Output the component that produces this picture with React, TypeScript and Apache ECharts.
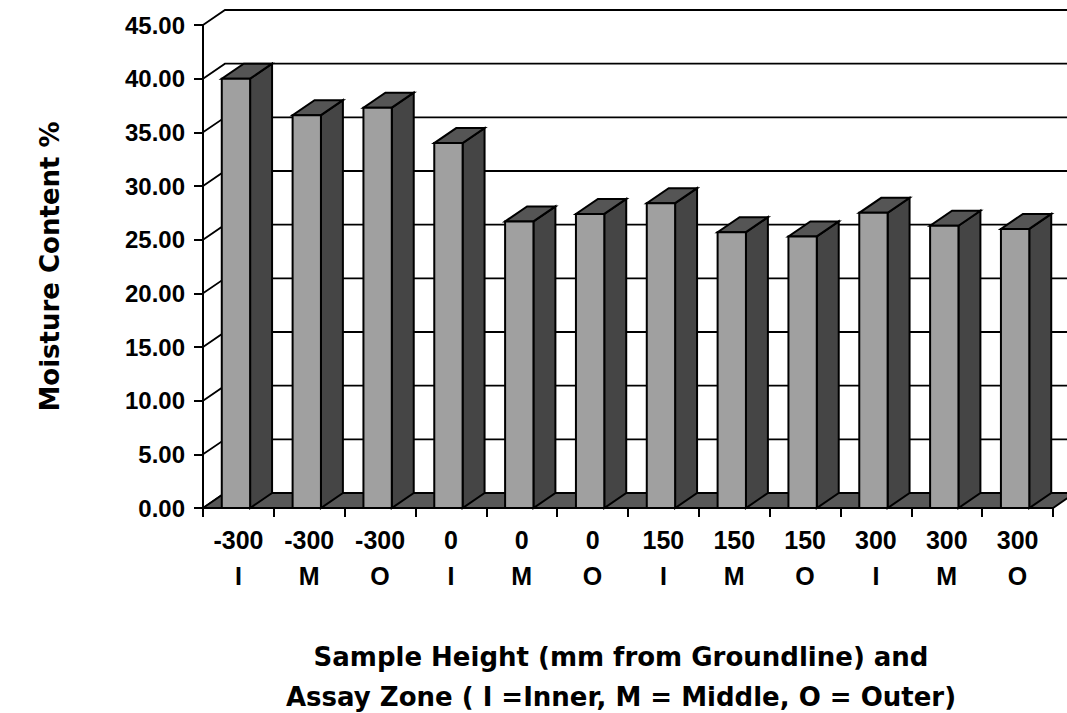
import React, { useEffect, useRef } from "react";
import * as echarts from "echarts";

const heights = ["-300", "-300", "-300", "0", "0", "0", "150", "150", "150", "300", "300", "300"];
const zones = ["I", "M", "O", "I", "M", "O", "I", "M", "O", "I", "M", "O"];
const moisture = [40.0, 36.6, 37.3, 34.0, 26.7, 27.4, 28.4, 25.7, 25.3, 27.5, 26.3, 26.0];
const yTicks = [0, 5, 10, 15, 20, 25, 30, 35, 40, 45];

const FONT = "'Liberation Sans', Arial, sans-serif";
const TFONT = "'DejaVu Sans', 'Liberation Sans', sans-serif";
const DY = 15;
const DXR = 0.31;

export default function App() {
  const ref = useRef<HTMLDivElement>(null);
  useEffect(() => {
    document.body.style.margin = "0";
    if (!ref.current) return;
    const chart = echarts.init(ref.current, null, { renderer: "svg" });
    const categories = heights.map((h, i) => h + "\n" + zones[i]);
    const n = categories.length;

    const gridSeries = {
      type: "custom",
      z: 1,
      silent: true,
      encode: { x: 0, y: 1 },
      data: yTicks.map((v) => [0, v]),
      renderItem: (params: any, api: any) => {
        const v = api.value(1);
        const bw = api.size([1, 0])[0];
        const dx = bw * DXR;
        const p = api.coord([0, v]);
        const pr = api.coord([n - 1, v]);
        const x0 = p[0] - bw / 2;
        const xr = pr[0] + bw / 2 + dx;
        return {
          type: "polyline",
          shape: { points: [[x0, p[1]], [x0 + dx, p[1] - DY], [xr, p[1] - DY]] },
          style: { stroke: "#000", lineWidth: 1.8, fill: null },
        };
      },
    };

    const floorSeries = {
      type: "custom",
      z: 2,
      silent: true,
      encode: { x: 0, y: 1 },
      data: [[0, 0]],
      renderItem: (params: any, api: any) => {
        const bw = api.size([1, 0])[0];
        const dx = bw * DXR;
        const p = api.coord([0, 0]);
        const pr = api.coord([n - 1, 0]);
        const x0 = p[0] - bw / 2;
        const xr = pr[0] + bw / 2;
        return {
          type: "polygon",
          shape: { points: [[x0, p[1]], [xr, p[1]], [xr + dx, p[1] - DY], [x0 + dx, p[1] - DY]] },
          style: { fill: "#585858", stroke: "#000", lineWidth: 1.8 },
        };
      },
    };

    const barSeries = {
      type: "custom",
      z: 3,
      encode: { x: 0, y: 1 },
      data: moisture.map((v, i) => [i, v]),
      renderItem: (params: any, api: any) => {
        const i = api.value(0);
        const v = api.value(1);
        const bw = api.size([1, 0])[0];
        const dx = bw * DXR;
        const base = api.coord([i, 0]);
        const top = api.coord([i, v]);
        const fl = base[0] - bw * 0.235;
        const fw = bw * 0.4;
        const yb = base[1];
        const yt = top[1];
        return {
          type: "group",
          children: [
            {
              type: "polygon",
              shape: { points: [[fl + fw, yt], [fl + fw + dx, yt - DY], [fl + fw + dx, yb - DY], [fl + fw, yb]] },
              style: { fill: "#454545", stroke: "#000", lineWidth: 2 },
            },
            {
              type: "polygon",
              shape: { points: [[fl, yt], [fl + fw, yt], [fl + fw + dx, yt - DY], [fl + dx, yt - DY]] },
              style: { fill: "#555555", stroke: "#000", lineWidth: 2 },
            },
            {
              type: "rect",
              shape: { x: fl, y: yt, width: fw, height: yb - yt },
              style: { fill: "#a0a0a0", stroke: "#000", lineWidth: 2 },
            },
          ],
        };
      },
    };

    chart.setOption({
      animation: false,
      backgroundColor: "#fff",
      grid: { left: 203, right: 14, top: 25, bottom: 205, containLabel: false, outerBoundsMode: "none" },
      xAxis: {
        type: "category",
        data: categories,
        boundaryGap: true,
        axisLine: { show: true, lineStyle: { color: "#000", width: 2 } },
        axisTick: { show: true, alignWithLabel: false, length: 9, lineStyle: { color: "#000", width: 2 } },
        axisLabel: {
          interval: 0,
          margin: 14,
          color: "#000",
          fontFamily: FONT,
          fontWeight: "bold",
          fontSize: 25,
          lineHeight: 36,
        },
        name: "Sample Height (mm from Groundline) and\nAssay Zone ( I =Inner, M = Middle, O = Outer)",
        nameLocation: "middle",
        nameGap: 129,
        nameTextStyle: {
          color: "#000",
          fontFamily: TFONT,
          fontWeight: "bold",
          fontSize: 26,
          lineHeight: 40,
          padding: [0, 14, 0, 0],
        },
        splitLine: { show: false },
      },
      yAxis: {
        type: "value",
        min: 0,
        max: 45,
        interval: 5,
        axisLine: { show: true, lineStyle: { color: "#000", width: 2 } },
        axisTick: { show: true, length: 9, lineStyle: { color: "#000", width: 2 } },
        axisLabel: {
          margin: 18,
          color: "#000",
          fontFamily: FONT,
          fontWeight: "bold",
          fontSize: 24,
          formatter: (v: number) => v.toFixed(2),
        },
        splitLine: { show: false },
        name: "Moisture Content %",
        nameLocation: "middle",
        nameRotate: 90,
        nameGap: 140,
        nameTextStyle: {
          color: "#000",
          fontFamily: TFONT,
          fontWeight: "bold",
          fontSize: 26,
        },
      },
      series: [gridSeries, floorSeries, barSeries],
    });
    return () => chart.dispose();
  }, []);
  return <div ref={ref} style={{ width: 1067, height: 713 }} />;
}
